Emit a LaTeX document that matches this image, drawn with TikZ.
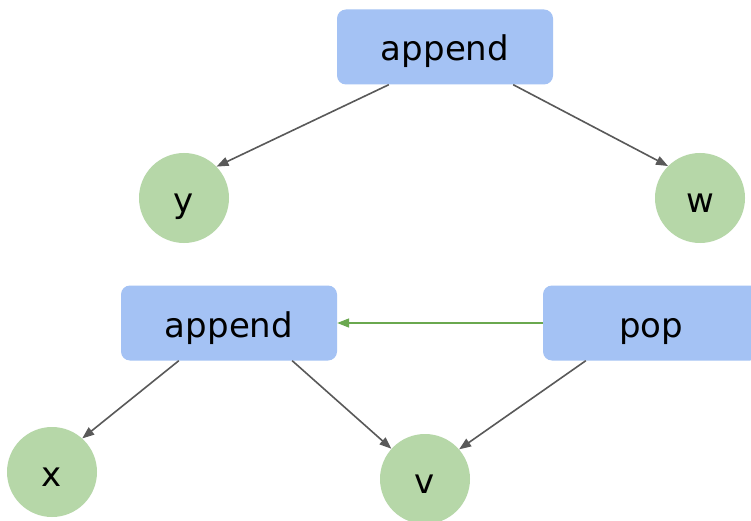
\documentclass[tikz,border=0pt]{standalone}
\usepackage{fontspec}
\setmainfont{DejaVu Sans}
\usetikzlibrary{arrows.meta}
\definecolor{opfill}{HTML}{A4C2F4}
\definecolor{varfill}{HTML}{B6D7A8}
\definecolor{edgegray}{HTML}{595959}
\definecolor{edgegreen}{HTML}{6AA84F}
\begin{document}
\begin{tikzpicture}[x=1pt,y=-1pt,
  label font/.style={font=\fontsize{34}{40}\selectfont, text height=28pt, text depth=0pt},
  opbox/.style={fill=opfill, rounded corners=9pt, minimum width=216pt, minimum height=75pt, inner sep=0pt,
    label font},
  varnode/.style={circle, fill=varfill, minimum size=90pt, inner sep=0pt, label font},
  link/.style={draw=edgegray, fill=edgegray, line width=1.6pt, -{Triangle[length=12pt,width=9pt]}},
  glink/.style={link, draw=edgegreen, fill=edgegreen}]
\clip (0,0) rectangle (751,521);
\fill[white] (0,0) rectangle (751,521);

\node[opbox] (top) at (445,47) {append};
\node[varnode] (y) at (184,198) {y};
\node[varnode] (w) at (700,198) {w};

\node[opbox] (app) at (229,323) {append};
\node[opbox] (pop) at (651,323) {pop};
\node[varnode] (x) at (52,472) {x};
\node[varnode] (v) at (425,479) {v};

\draw[link] ([xshift=52pt]top.south west) -- (y.44);
\draw[link] ([xshift=-40pt]top.south east) -- (w.135);
\draw[link] ([xshift=58pt]app.south west) -- (x.48);
\draw[link] ([xshift=-45pt]app.south east) -- (v.138);
\draw[link] ([xshift=43pt]pop.south west) -- (v.41);
\draw[glink] (pop.west) -- (app.east);
\end{tikzpicture}
\end{document}
